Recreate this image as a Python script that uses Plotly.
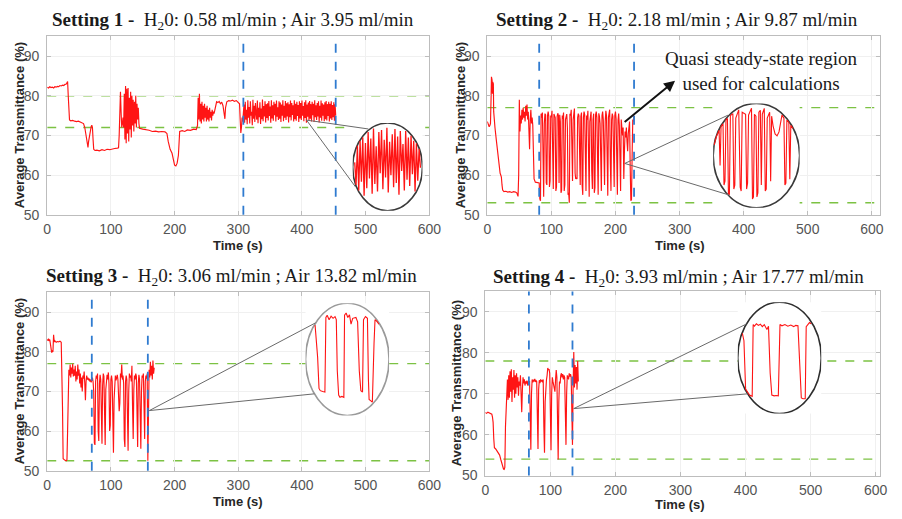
import numpy as np
import plotly.graph_objects as go

W, H = 902, 519

# ---------------- Setting 1 ----------------
s1_time = ([0, 2, 4, 6, 8, 10, 12, 14, 16, 18, 20, 22, 24, 26, 28, 30, 31, 32, 33,
            35, 37, 40, 43, 46, 49, 52, 55, 57, 59, 61, 63, 64, 65, 67, 69, 70, 71, 72, 73,
            75, 78, 82, 86, 90, 94, 98, 102, 106, 110, 112, 113, 114, 115, 116, 117, 118, 119, 120]
           + list(range(121, 145))
           + [145, 150, 155, 160, 165, 170, 175, 180, 185, 188, 190, 193, 196, 198, 200, 202, 204,
              206, 207, 208, 212, 216, 220, 225, 230, 234, 236]
           + list(range(237, 264))
           + [265, 266, 268, 270, 272, 274, 276, 278, 279, 280, 282, 285, 288, 291, 294, 297, 300,
              302, 303, 304, 305, 306, 307, 308]
           + list(range(309, 454)))
s1_trans = ([82.2, 82.0, 82.3, 82.1, 82.2, 82.0, 82.3, 82.2, 82.4, 82.3, 82.6, 82.5, 82.7, 82.6, 82.9, 83.0, 83.3, 83.6, 80.0,
             73.9, 73.7, 73.8, 73.6, 73.5, 73.6, 73.3, 73.2, 73.0, 72.0, 69.5, 67.2, 67.0, 68.5, 71.0, 72.2, 72.6, 72.0, 69.0, 66.5,
             66.2, 66.3, 66.1, 66.4, 66.2, 66.5, 66.4, 66.6, 66.7, 66.8, 66.9, 70.0, 73.5, 81.0, 76.0, 72.0, 73.0, 74.5, 72.0]
            + [80.5, 69.0, 82.5, 68.0, 81.8, 70.5, 82.0, 68.5, 79.5, 71.5, 81.0, 69.5, 80.0, 72.5, 79.0, 71.0, 78.5, 73.0,
               80.0, 72.0, 78.0, 74.0, 77.0, 73.0]
            + [71.8, 71.6, 71.5, 71.3, 71.0, 71.1, 70.9, 71.0, 70.9, 70.5, 68.5, 66.5, 65.5, 64.0, 62.5, 62.3, 63.0,
               65.0, 68.5, 71.0, 71.2, 71.0, 71.4, 71.3, 71.6, 71.5, 72.5]
            + [79.5, 74.0, 80.5, 73.5, 78.0, 73.0, 78.5, 74.0, 77.5, 73.5, 78.0, 74.5, 77.0, 73.5, 77.5, 74.0, 76.5, 73.5,
               77.0, 74.5, 76.0, 73.8, 76.5, 75.0, 76.0, 75.5, 76.5]
            + [77.5, 78.5, 78.3, 78.6, 78.0, 78.4, 77.5, 74.5, 74.2, 77.0, 78.5, 78.8, 78.7, 78.9, 78.6, 78.8, 78.4,
               78.0, 74.0, 70.6, 72.0, 74.5, 73.5, 75.5]
            + [77.8, 73.2, 78.5, 74.0, 76.5, 72.8, 78.9, 74.5, 77.2, 73.0,
               78.6, 75.0, 76.0, 72.6, 79.0, 74.2, 77.5, 73.4, 78.2, 75.5,
               74.0, 78.8, 73.1, 77.0, 74.6, 78.4, 72.9, 76.8, 74.1, 79.1,
               73.6, 77.4, 74.8, 78.6, 73.3, 77.9, 74.4, 78.1, 73.8, 78.7,
               74.9, 77.3, 73.2, 78.9, 74.3, 77.6, 73.7, 78.5, 75.1, 78.0,
               73.5, 78.8, 74.7, 77.1, 73.9, 78.6, 74.2, 78.3, 73.4, 77.8,
               75.0, 78.9, 73.6, 77.5, 74.5, 78.7, 73.9, 78.1, 74.8, 78.4,
               73.3, 77.9, 74.6, 78.8, 73.8, 78.2, 75.2, 77.6, 73.5, 78.9,
               74.1, 78.0, 73.7, 78.5, 74.9, 77.7, 73.4, 78.6, 74.3, 78.2,
               73.9, 78.8, 75.0, 77.4, 73.6, 78.4, 74.4, 78.9, 73.2, 77.8,
               74.7, 78.3, 73.8, 78.7, 74.2, 77.9, 73.5, 78.5, 75.1, 78.0,
               73.4, 78.9, 74.6, 77.6, 73.9, 78.2, 74.8, 78.6, 73.3, 77.5,
               74.5, 78.8, 73.7, 78.1, 75.0, 77.8, 73.6, 78.4, 74.1, 78.7,
               73.8, 77.9, 74.9, 78.5, 73.5, 78.0, 74.3, 78.6, 73.9, 77.7,
               74.6, 78.4, 73.7, 77.9, 75.0])
s1_zoom = [76.0, 73.4, 78.9, 73.0, 79.2, 74.2, 78.5, 72.9, 77.8, 73.6, 79.1, 74.5, 78.2, 73.1, 79.3, 74.0, 77.5,
           73.3, 78.8, 75.0, 79.0, 73.5, 78.1, 74.6, 79.2, 73.2, 77.9, 74.8, 78.6, 73.7, 79.1, 74.1, 78.4, 73.0,
           78.9, 75.2, 77.7, 73.4, 79.0, 74.4, 78.3, 73.8, 79.2, 74.9, 78.0, 73.3, 78.7, 74.3, 77.6, 75.5]
s1_zoom_x = list(range(len(s1_zoom)))

# ---------------- Setting 2 ----------------
s2_time = ([0, 1, 2, 3, 4, 5, 6, 6.5, 7, 7.5, 8, 8.5, 9, 9.5, 10, 10.5, 12, 14, 16, 18, 19, 20, 21, 22, 23, 24,
            26, 29, 32, 35, 38, 41, 44, 46, 48, 49]
           + list(range(50, 73))
           + [73, 75, 78, 80]
           + list(range(81, 230)))
s2_trans = ([73.5, 73.0, 72.6, 72.2, 72.5, 73.0, 80.0, 84.8, 82.0, 84.0, 80.5, 83.5, 81.0, 83.0, 76.0, 74.0,
             72.0, 69.0, 66.0, 62.5, 61.0, 60.5, 60.0, 59.5, 57.5, 56.2, 55.8, 55.9, 55.7, 55.8, 55.6, 55.8,
             55.7, 55.5, 54.6, 60.0]
            + [79.0, 71.0, 75.0, 73.0, 76.5, 74.0, 77.0, 74.5, 76.0, 73.5, 77.5, 75.0, 77.8, 74.0, 76.0, 70.0,
               66.5, 74.0, 76.5, 73.0, 74.5, 72.5, 65.0]
            + [59.0, 58.2, 58.0, 57.9]
            + [58.0, 54.0, 53.5, 75.5, 74.5, 75.8, 58.5, 54.5, 73.0, 75.5,
               75.2, 58.0, 57.5, 75.0, 76.0, 74.8, 57.0, 58.5, 75.0, 74.6,
               76.2, 59.5, 56.5, 75.4, 75.0, 74.5, 56.0, 57.0, 74.8, 75.6,
               75.0, 58.0, 75.2, 73.5, 55.5, 56.2, 75.0, 74.2, 75.8, 56.0,
               57.5, 74.0, 75.0, 75.4, 72.0, 55.0, 55.5, 53.0, 75.5, 75.0,
               76.5, 64.0, 58.5, 74.0, 75.2, 76.8, 60.5, 59.0, 59.3, 59.0,
               74.5, 75.5, 75.0, 58.0, 57.5, 74.8, 75.8, 57.5, 55.0, 74.5,
               76.0, 75.2, 58.0, 56.0, 75.0, 74.0, 76.2, 57.5, 54.5, 73.5,
               75.8, 76.0, 61.0, 56.5, 74.0, 75.5, 55.5, 56.8, 75.2, 76.0,
               74.5, 57.0, 55.0, 75.6, 74.8, 73.0, 58.0, 56.0, 75.0, 76.0,
               74.0, 60.0, 57.5, 73.5, 76.2, 75.0, 55.5, 54.8, 74.5, 75.2,
               76.5, 63.0, 56.0, 74.0, 75.5, 74.8, 58.5, 57.0, 75.0, 76.0,
               74.2, 56.0, 55.0, 73.8, 75.5, 72.5, 57.0, 56.0, 74.0, 71.5,
               70.0, 72.0, 59.0, 66.0, 71.0, 69.5, 72.0, 68.5, 66.0, 70.5,
               72.0, 73.5, 62.0, 53.5, 53.8, 65.0, 74.0, 73.5, 75.0])
s2_zoom_x = [1, 3, 6, 7, 8, 10, 11, 12, 13, 14.5, 15.5, 16.5, 17.5, 20, 21, 22, 23, 26, 27.5, 28.5,
             29.5, 33, 34, 35, 36, 39, 40, 41, 42, 43.5, 44.5, 45.5, 46.5, 48, 49, 50, 52, 53, 54, 55,
             57.5, 58.5, 59.5, 61, 63, 65, 67, 68.5, 70, 72, 73, 74, 75, 77, 78, 79, 81]
s2_zoom = [72.5, 75.5, 74.8, 62.0, 75.0, 75.8, 57.0, 58.0, 74.5, 76.0, 54.0, 54.5, 75.0, 75.8, 56.0, 57.0,
           74.0, 76.2, 56.5, 55.5, 75.5, 75.0, 56.0, 57.5, 74.8, 76.5, 53.5, 54.0, 75.0, 74.5, 54.0, 55.0,
           75.5, 76.0, 57.0, 75.0, 76.5, 55.5, 56.0, 74.0, 75.5, 58.0, 74.5, 72.0, 70.0, 69.5, 70.5, 73.0,
           75.5, 74.0, 57.0, 57.5, 74.0, 75.0, 58.5, 73.5, 74.5]

# ---------------- Setting 3 ----------------
s3_time = ([0, 1, 2, 3, 4, 5, 6, 7, 8, 9, 10, 11, 12, 14, 16, 18, 20, 22, 23, 24, 25, 26, 28, 30, 31, 32]
           + list(range(33, 169)))
s3_trans = ([83.2, 82.8, 83.3, 82.9, 83.1, 82.0, 80.5, 79.8, 80.2, 80.0, 84.3, 82.5, 82.8, 82.4, 82.6, 82.5,
             82.7, 82.4, 76.0, 66.0, 53.0, 52.8, 52.6, 52.5, 52.8, 60.0]
            + [73.0, 75.5, 74.0, 76.8, 73.5, 76.0, 74.5, 77.0, 73.8, 75.5,
               74.0, 76.5, 72.5, 75.0, 73.0, 76.8, 74.0, 75.5, 72.0, 74.5,
               71.0, 73.5, 70.0, 74.0, 73.2, 75.0, 72.0, 67.8, 72.5, 74.0,
               73.0, 73.5, 72.8, 73.2, 72.5, 73.0, 72.3, 72.8, 73.5, 72.5,
               70.0, 57.0, 56.5, 72.5, 74.0, 73.2, 74.5, 60.0, 57.5, 72.0,
               74.2, 73.0, 66.0, 56.8, 71.5, 74.5, 73.8, 62.0, 56.5, 70.5,
               73.5, 74.2, 73.0, 74.8, 72.0, 60.0, 61.5, 73.0, 74.0, 72.5,
               58.0, 54.5, 68.0, 73.5, 74.0, 72.8, 73.5, 74.2, 73.0, 70.0,
               65.0, 67.0, 74.5, 73.5, 76.8, 73.0, 74.0, 72.0, 58.0, 56.0,
               72.5, 74.0, 73.0, 62.0, 55.0, 70.0, 74.5, 73.5, 74.0, 72.5,
               76.5, 66.0, 58.0, 70.5, 74.0, 73.0, 74.5, 73.8, 68.0, 56.0,
               72.0, 74.2, 73.0, 64.0, 55.5, 70.0, 74.0, 73.5, 74.5, 65.0,
               58.0, 72.5, 74.0, 73.2, 74.5, 52.5, 73.0, 75.5, 73.5, 77.5,
               74.0, 76.5, 73.0, 77.8, 74.5, 76.0])
s3_zoom_x = [9.7, 12.3, 13.7, 15, 17.5, 19.7, 20.7, 22, 24, 26, 28, 30, 31.3, 32.3, 33.7, 35, 37, 39, 39.7, 41.3,
             43, 44.7, 46.3, 48, 51.3, 53, 54.7, 56.3, 58, 59, 61, 63, 64, 64.7, 66.5, 68, 69.7, 70.7, 72.5, 74.7]
s3_zoom = [73.0, 65.0, 58.0, 57.5, 57.3, 57.2, 74.0, 74.5, 73.5, 74.3, 73.8, 74.2, 73.5, 62.0, 56.5, 56.0,
           56.2, 56.0, 74.5, 75.0, 74.0, 74.6, 72.5, 73.8, 74.0, 73.0, 62.0, 57.5, 57.2, 73.5, 74.2, 73.8,
           60.0, 55.5, 55.2, 54.9, 68.0, 73.5, 74.2, 74.0]

# ---------------- Setting 4 ----------------
s4_time = ([0, 2, 4, 6, 8, 10, 11, 12, 13, 14, 16, 18, 20, 22, 24, 26, 28, 29, 30, 31, 32]
           + list(range(33, 144)))
s4_trans = ([65.4, 65.2, 65.5, 65.3, 65.1, 65.0, 64.3, 63.0, 59.0, 56.8, 56.5, 56.0, 55.6, 55.0, 53.8, 52.5,
             51.6, 51.5, 52.0, 62.0, 65.0]
            + [70.0, 73.5, 68.5, 74.5, 69.0, 75.5, 70.5, 76.0, 68.0, 74.0,
               71.0, 75.8, 69.0, 74.5, 70.0, 75.0, 71.5, 74.0, 69.5, 73.0,
               72.0, 74.5, 70.0, 65.5, 71.0, 74.0, 72.5, 73.5, 72.0, 73.0,
               72.5, 73.2, 72.0, 73.0, 72.4, 73.1, 65.0, 56.3, 70.0, 73.5,
               72.8, 73.4, 73.0, 73.6, 72.9, 73.2, 73.0, 60.0, 56.5, 71.0,
               73.3, 72.6, 73.5, 73.0, 73.2, 72.8, 73.5, 62.0, 55.6, 68.0,
               73.0, 73.4, 74.5, 76.3, 75.8, 76.0, 75.0, 64.0, 56.2, 70.0,
               74.0, 73.0, 72.0, 71.0, 70.5, 73.5, 75.8, 74.0, 60.0, 53.9,
               68.0, 73.0, 72.5, 74.5, 75.0, 74.0, 74.8, 73.5, 74.5, 74.0,
               62.0, 57.5, 70.0, 74.5, 74.0, 73.5, 75.0, 74.2, 74.8, 74.0,
               60.0, 57.5, 72.0, 80.2, 71.5, 77.0, 72.5, 76.5, 71.0, 78.0,
               73.0])
s4_zoom_x = [4.7, 6.3, 8, 9.7, 12, 14.7, 15.7, 17, 19, 21, 23, 25, 27, 29.7, 31.3, 33, 34.7, 37, 39, 41.3,
             42.3, 43, 45, 48, 51, 54, 57, 59, 61.3, 63, 64.7, 66.5, 68.7, 69.7, 71, 73, 74.7]
s4_zoom = [73.0, 70.0, 58.0, 56.2, 56.0, 56.2, 74.0, 73.6, 74.2, 73.8, 74.1, 73.5, 74.0, 72.8, 73.6, 62.0,
           56.5, 56.3, 56.4, 56.3, 70.0, 74.0, 73.7, 74.0, 73.6, 73.9, 73.5, 73.8, 73.7, 65.0, 55.8, 55.6,
           55.6, 73.5, 73.8, 74.5, 74.2]

titles = ["<b>Setting 1 -</b>  H<sub>2</sub>0: 0.58 ml/min ; Air 3.95 ml/min",
          "<b>Setting 2 -</b>  H<sub>2</sub>0: 2.18 ml/min ; Air 9.87 ml/min",
          "<b>Setting 3 -</b>  H<sub>2</sub>0: 3.06 ml/min ; Air 13.82 ml/min",
          "<b>Setting 4 -</b>  H<sub>2</sub>0: 3.93 ml/min ; Air 17.77 ml/min"]
green_levels = [(72, 80), (53, 77), (52.5, 77), (54, 78)]
window_edges = [(308, 453), (81, 229), (70, 158), (67, 134)]

series = [(s1_time, s1_trans), (s2_time, s2_trans), (s3_time, s3_trans), (s4_time, s4_trans)]
zooms = [(s1_zoom_x, s1_zoom), (s2_zoom_x, s2_zoom), (s3_zoom_x, s3_zoom), (s4_zoom_x, s4_zoom)]

for (t, v) in series + zooms:
    assert len(t) == len(v)


def px(x):
    return x / W


def py(y):
    return 1 - y / H


# main plot boxes in pixels: (left, right, top, bottom), x-range max
boxes = [(44, 433, 37, 218, 600), (492, 892, 37, 218, 613),
         (44, 433, 297, 478, 600), (490, 892, 296, 483, 607)]
# magnifier ellipses in pixels: (left, right, top, bottom)
ellipses = [(355, 426, 125, 214), (722, 810, 105, 211), (307, 392, 308, 422), (747, 832, 307, 420)]
zoom_xr = [(-1.5, 50.5), (0, 88), (0, 85), (0, 85)]
zoom_yr = [(71.52, 79.64), (51.25, 77.75), (51.9, 77.2), (51.92, 79.54)]
zoom_width = [1.3, 1.1, 1.1, 1.1]
ellipse_line = ["#3a3a3a", "#3a3a3a", "#9a9a9a", "#2e2e2e"]
# connector lines: vertex, upper end, lower end (pixels)
connectors = [((308, 122), (371, 131), (358, 190)),
              ((632, 166), (737, 117), (738, 198)),
              ((148, 417), (317, 328), (316, 400)),
              ((580, 415), (756, 329), (757, 400))]
title_pos = [(233, 21), (685, 21), (232, 281), (687, 282)]
xtitle_y = [249, 249, 509, 512]
ytitle_x = [16, 465, 16, 461]


def clip_to_ellipse(xs, ys, xr, yr, k=0.96):
    xs = np.asarray(xs, float)
    ys = np.asarray(ys, float)
    u = 2 * (xs - xr[0]) / (xr[1] - xr[0]) - 1
    v = 2 * (ys - yr[0]) / (yr[1] - yr[0]) - 1
    lim = k * np.sqrt(np.clip(1 - u ** 2, 0, None))
    v = np.clip(v, -lim, lim)
    return yr[0] + (v + 1) / 2 * (yr[1] - yr[0])


fig = go.Figure()
shapes = []
annotations = []
tick_font = dict(family="Liberation Sans, Arial", size=14, color="#555555")
axis_title_font = dict(family="Liberation Sans, Arial", size=13, color="#262626")

for i in range(4):
    n = i + 1
    sx = "" if n == 1 else str(n)
    t, v = series[i]
    fig.add_trace(go.Scatter(x=t, y=v, mode="lines", line=dict(color="#ff1414", width=1.15),
                             xaxis="x" + sx, yaxis="y" + sx, showlegend=False, hoverinfo="skip"))
    l, r, tp, b, xmax = boxes[i]
    common = dict(showline=True, linecolor="#bdbdbd", linewidth=1, mirror="ticks", ticks="inside",
                  ticklen=4, tickcolor="#bdbdbd", showgrid=True, gridcolor="#f0f0f0", zeroline=False,
                  tickfont=tick_font, fixedrange=True)
    fig.update_layout(**{
        "xaxis" + sx: dict(domain=[px(l), px(r)], range=[0, xmax], anchor="y" + sx,
                           tickvals=[0, 100, 200, 300, 400, 500, 600], ticklabelstandoff=2, **common),
        "yaxis" + sx: dict(domain=[py(b), py(tp)], range=[50, 95], anchor="x" + sx,
                           tickvals=[50, 60, 70, 80, 90], ticklabelstandoff=4, **common),
    })
    xref, yref = "x" + sx, "y" + sx
    for lvl in green_levels[i]:
        shapes.append(dict(type="line", xref=xref, yref=yref, x0=0, x1=xmax, y0=lvl, y1=lvl,
                           line=dict(color="#7cc243", width=1.3, dash="dash"), layer="below"))
    for edge in window_edges[i]:
        shapes.append(dict(type="line", xref=xref, yref="y" + sx + " domain", x0=edge, x1=edge, y0=0, y1=1,
                           line=dict(color="#2f7bd0", width=1.8, dash="dash"), layer="above"))

    # magnified view inside an ellipse
    zn = str(n + 4)
    el, er, et, eb = ellipses[i]
    xr, yr = zoom_xr[i], zoom_yr[i]
    zx, zv = zooms[i]
    fig.add_trace(go.Scatter(x=zx, y=clip_to_ellipse(zx, zv, xr, yr), mode="lines",
                             line=dict(color="#ff1414", width=zoom_width[i]), xaxis="x" + zn, yaxis="y" + zn,
                             showlegend=False, hoverinfo="skip"))
    fig.update_layout(**{
        "xaxis" + zn: dict(domain=[px(el), px(er)], range=list(xr), visible=False, anchor="y" + zn, fixedrange=True),
        "yaxis" + zn: dict(domain=[py(eb), py(et)], range=list(yr), visible=False, anchor="x" + zn, fixedrange=True),
    })
    shapes.append(dict(type="circle", xref="x" + zn, yref="y" + zn, x0=xr[0], x1=xr[1], y0=yr[0], y1=yr[1],
                       fillcolor="white", line=dict(color=ellipse_line[i], width=1.6), layer="below"))
    vtx, up, lo = connectors[i]
    for end in (up, lo):
        shapes.append(dict(type="line", xref="paper", yref="paper", x0=px(vtx[0]), y0=py(vtx[1]),
                           x1=px(end[0]), y1=py(end[1]), line=dict(color="#6a6a6a", width=1), layer="above"))

    # titles
    annotations.append(dict(text=titles[i], x=px(title_pos[i][0]), y=py(title_pos[i][1]), xref="paper",
                            yref="paper", showarrow=False, xanchor="center", yanchor="middle",
                            font=dict(family="Liberation Serif, Times New Roman", size=19, color="#1a1a1a")))
    annotations.append(dict(text="<b>Time (s)</b>", x=px((l + l + (r - l) * 600 / xmax) / 2), y=py(xtitle_y[i]),
                            xref="paper", yref="paper", showarrow=False, xanchor="center", yanchor="middle",
                            font=axis_title_font))
    annotations.append(dict(text="<b>Average Transmittance (%)</b>", x=px(ytitle_x[i]), y=py((tp + b) / 2),
                            xref="paper", yref="paper", showarrow=False, xanchor="center", yanchor="middle",
                            textangle=-90, font=axis_title_font))

# call-out in Setting 2
annotations.append(dict(x=293, y=83.8, xref="x2", yref="y2", ax=212, ay=73.1, axref="x2", ayref="y2",
                        text="", showarrow=True, arrowhead=2, arrowsize=1.1, arrowwidth=2, arrowcolor="#111111"))
annotations.append(dict(text="Quasi steady-state region<br>used for calculations", x=px(771), y=py(72),
                        xref="paper", yref="paper", showarrow=False, xanchor="center", yanchor="middle",
                        align="center",
                        font=dict(family="Liberation Serif, Times New Roman", size=19, color="#1a1a1a")))

fig.update_layout(width=W, height=H, margin=dict(l=0, r=0, t=0, b=0), paper_bgcolor="white",
                  plot_bgcolor="white", shapes=shapes, annotations=annotations, showlegend=False)

fig.write_html("out.html")
